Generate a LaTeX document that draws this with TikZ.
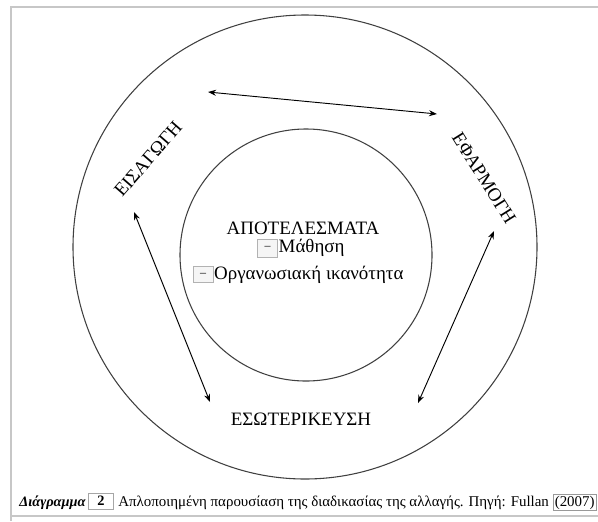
\documentclass[tikz,border=0pt]{standalone}
\usepackage{fontspec}
\setmainfont{Liberation Serif}
\usetikzlibrary{arrows.meta}
\begin{document}
\begin{tikzpicture}[x=0.75pt,y=-0.75pt,
  frameline/.style={draw=black!22,line width=2.2pt},
  ring/.style={draw=black!75,line width=0.8pt},
  link/.style={draw=black,line width=0.7pt,{Stealth[length=6pt,width=4.5pt]}-{Stealth[length=6pt,width=4.5pt]}},
  lbl/.style={font=\fontsize{14.2pt}{16pt}\selectfont,inner sep=1pt},
  dashbox/.style={draw=black!30,fill=black!4,inner sep=0pt,font=\fontsize{9pt}{9pt}\selectfont},
  capt/.style={font=\fontsize{11.2pt}{13pt}\selectfont,inner sep=0pt,anchor=base west}]
\useasboundingbox (0,0) rectangle (598,521);
% frame
\draw[frameline] (11,521) -- (11,7) -- (598,7);
\draw[frameline] (11,516) -- (598,516);
% circles
\node[ring,circle,minimum size=464*0.75pt,inner sep=0pt] (outer) at (305,247) {};
\node[ring,circle,minimum size=252*0.75pt,inner sep=0pt] (inner) at (306,255) {};
% inner text
\node[lbl] (res) at (303,228) {ΑΠΟΤΕΛΕΣΜΑΤΑ};
\node[dashbox,minimum width=15pt,minimum height=13.5pt] (b1) at (267.5,248) {–};
\node[lbl,anchor=west,inner sep=0.5pt] (mat) at (b1.east) {Μάθηση};
\node[dashbox,minimum width=15pt,minimum height=12pt] (b2) at (203,274.5) {–};
\node[lbl,anchor=west,inner sep=0.5pt] (org) at (b2.east) {Οργανωσιακή ικανότητα};
% stage labels
\node[lbl,rotate=49] (eis) at (148,159) {ΕΙΣΑΓΩΓΗ};
\node[lbl,rotate=-58] (efa) at (484,178) {ΕΦΑΡΜΟΓΗ};
\node[lbl] (eso) at (301,419) {ΕΣΩΤΕΡΙΚΕΥΣΗ};
% arrows
\coordinate (t1) at (208,92);
\coordinate (t2) at (437,114);
\coordinate (l1) at (134,212);
\coordinate (l2) at (210,402);
\coordinate (r1) at (494,231);
\coordinate (r2) at (418,403);
\draw[link] (t1) -- (t2);
\draw[link] (l1) -- (l2);
\draw[link] (r1) -- (r2);
% caption
\node[capt,font=\fontsize{10.8pt}{13pt}\selectfont] (c1) at (19,506) {\textbf{\textit{Διάγραμμα}}};
\node[dashbox,draw=black!35,fill=white,minimum width=19pt,minimum height=12pt,anchor=west,font=\fontsize{10.8pt}{12pt}\selectfont\bfseries] (c2) at ([xshift=1.5pt,yshift=3.6pt]c1.base east) {2\hspace{7pt}};
\node[capt] (c3) at (118,506) {Απλοποιημένη παρουσίαση της διαδικασίας της αλλαγής. Πηγή: Fullan};
\node[draw=black!40,inner sep=1pt,anchor=base west,font=\fontsize{11.2pt}{13pt}\selectfont] (c4) at ([xshift=3pt]c3.base east) {(2007)};
\end{tikzpicture}
\end{document}
